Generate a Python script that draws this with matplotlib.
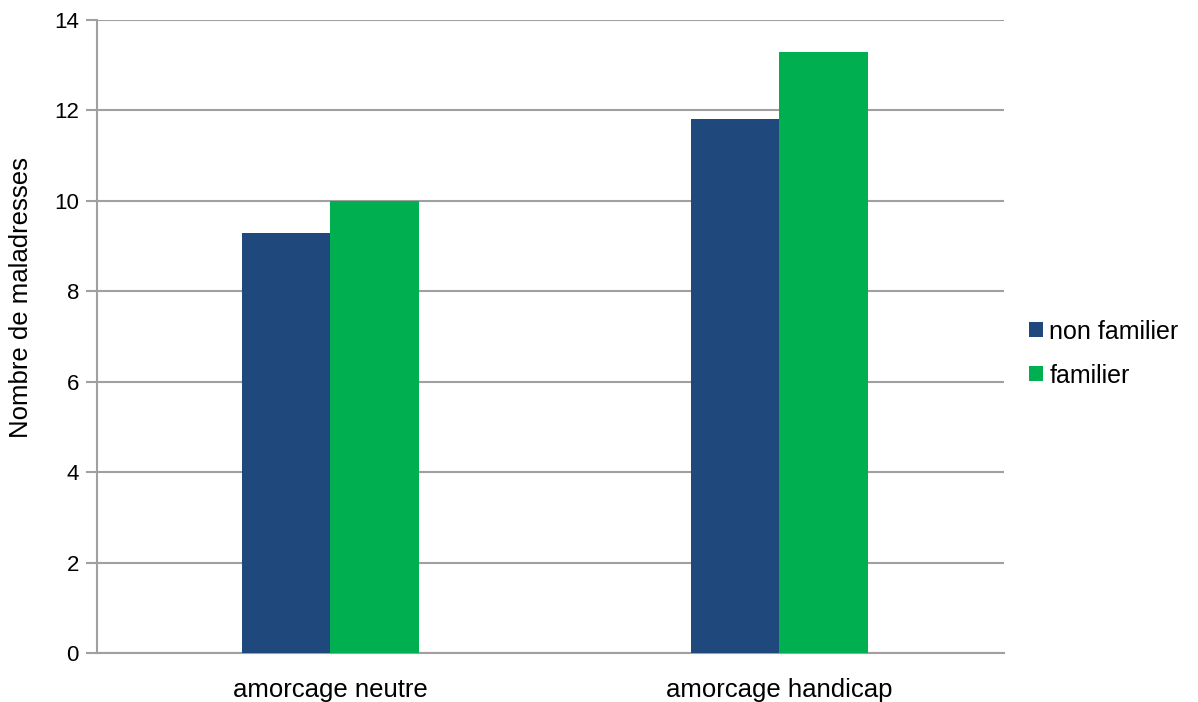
import matplotlib.pyplot as plt
import numpy as np

plt.rcParams['font.family'] = ['Liberation Sans', 'DejaVu Sans']

categories = ['amorcage neutre', 'amorcage handicap']
series_names = ['non familier', 'familier']
non_familier = [9.3, 11.8]
familier = [10.0, 13.3]
colors = ['#1f497d', '#00b050']

fig = plt.figure(figsize=(11.98, 7.02), dpi=100)
ax = fig.add_axes([0.081, 0.0698, 0.757, 0.9017])

x = np.arange(len(categories))
w = 0.198
ax.bar(x - w / 2, non_familier, w, color=colors[0], label=series_names[0], zorder=3)
ax.bar(x + w / 2, familier, w, color=colors[1], label=series_names[1], zorder=3)

ax.set_xlim(-0.52, 1.5)
ax.set_ylim(0, 14)
ax.set_yticks(range(0, 15, 2))
ax.set_xticks(x)
ax.set_xticklabels(categories)
ax.tick_params(axis='x', length=0, labelsize=18.5, pad=18)
ax.tick_params(axis='y', length=8, color='#a0a0a0', width=1.5, labelsize=16, pad=5)
ax.grid(axis='y', color='#a0a0a0', linewidth=1.5, zorder=0)
for s in ['top', 'right']:
    ax.spines[s].set_visible(False)
for s in ['left', 'bottom']:
    ax.spines[s].set_color('#a0a0a0')
    ax.spines[s].set_linewidth(1.5)
ax.set_ylabel('Nombre de maladresses', fontsize=18.5)
ax.yaxis.set_label_coords(-0.0706, 0.561)

ax.legend(loc='center left', bbox_to_anchor=(1.003, 0.473), frameon=False,
          fontsize=18, handlelength=0.55, handleheight=0.55, handletextpad=0.25,
          labelspacing=0.8)

fig.savefig('out.png', dpi=100)
